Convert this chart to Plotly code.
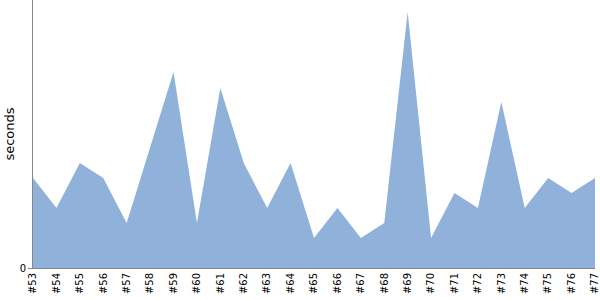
import plotly.graph_objects as go

builds = ["#53", "#54", "#55", "#56", "#57", "#58", "#59", "#60", "#61", "#62",
          "#63", "#64", "#65", "#66", "#67", "#68", "#69", "#70", "#71", "#72",
          "#73", "#74", "#75", "#76", "#77"]
seconds = [6, 4, 7, 6, 3, 8, 13.07, 3, 12, 7,
           4, 7, 2, 4, 2, 3, 17.07, 2, 5, 4,
           11.07, 4, 6, 5, 6]

fig = go.Figure()
fig.add_trace(go.Scatter(
    x=list(range(len(builds))), y=seconds, mode="lines", fill="tozeroy",
    line=dict(width=0, color="#8fb1da"), fillcolor="#8fb1da",
    hoverinfo="skip", showlegend=False,
))
fig.update_layout(
    width=600, height=300,
    margin=dict(l=33, r=5, t=0, b=32),
    paper_bgcolor="white", plot_bgcolor="white",
    font=dict(family="DejaVu Sans", size=10, color="black"),
    xaxis=dict(
        range=[-0.0005, len(builds) - 1 + 0.0005], tickmode="array",
        tickvals=list(range(len(builds))), ticktext=builds,
        tickangle=-90, showgrid=False, zeroline=False,
        showline=True, linecolor="#888888", linewidth=1,
        ticks="", tickfont=dict(size=10, color="black"),
        ticklabeloverflow="allow",
    ),
    yaxis=dict(
        range=[0, 268 / 15], tickmode="array", tickvals=[0], ticktext=["0"],
        showgrid=False, zeroline=False, showline=True, linecolor="#888888",
        linewidth=1, ticks="outside", ticklen=4, tickcolor="#888888",
        title=dict(text="seconds", font=dict(size=13, color="black"), standoff=2),
        tickfont=dict(size=10, color="black"),
    ),
)
fig.write_html("out.html")
